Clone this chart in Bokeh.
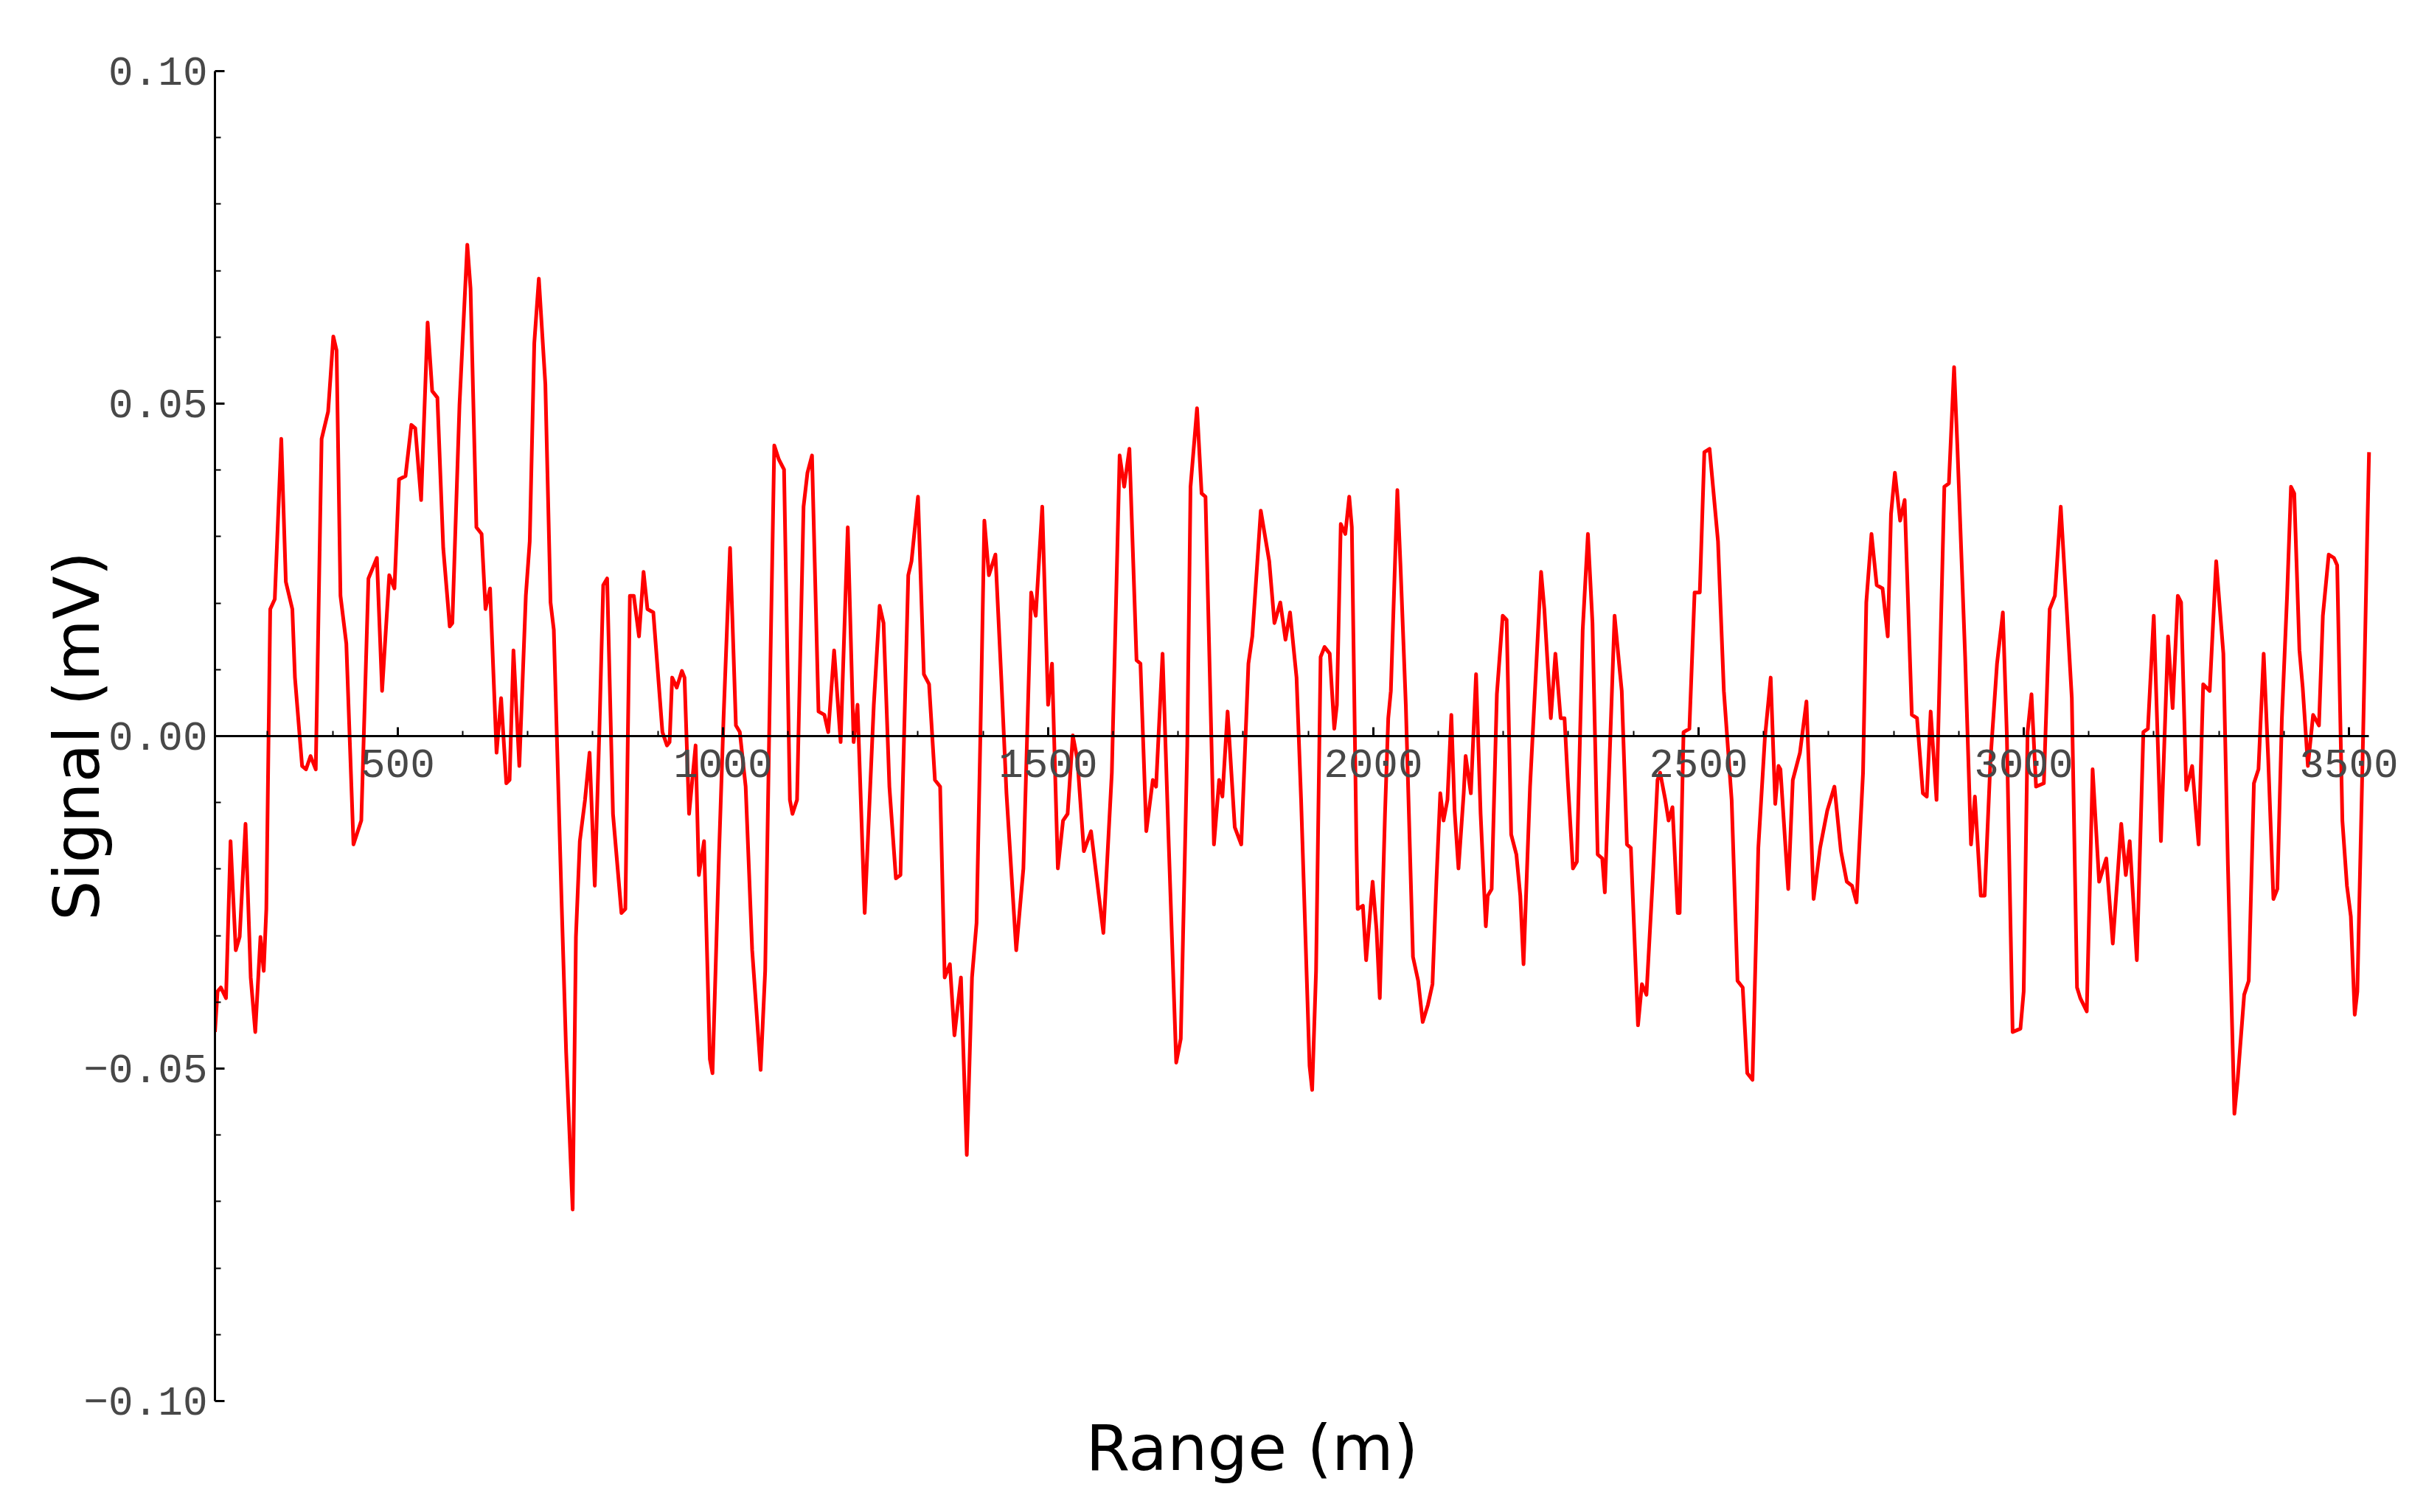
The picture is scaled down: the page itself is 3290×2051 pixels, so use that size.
from bokeh.plotting import figure
from bokeh.models import Range1d, FixedTicker, CustomJSTickFormatter, Title
from bokeh.embed import file_html
from bokeh.resources import INLINE

# ---- data ----
range_m = [
    219, 223, 228, 236, 243, 251, 257, 266, 274, 281, 289, 294, 298, 304, 311, 321, 328, 338, 342, 353,
    359, 366, 374, 383, 393, 401, 406, 412, 421, 432, 444, 455, 468, 476, 487, 495, 502, 512, 521, 527,
    536, 546, 553, 561, 570, 580, 584, 595, 607, 612, 621, 629, 635, 642, 652, 659, 667, 672, 678, 687,
    697, 703, 710, 717, 727, 735, 740, 752, 759, 769,
    774, 780, 788, 795, 803, 810, 816, 822, 831, 844, 850, 857, 863, 871, 878, 884, 893, 907, 914, 918,
    922, 929, 937, 941, 948, 952, 958, 963, 971, 980, 984, 994, 1001, 1011, 1020, 1026, 1035, 1045, 1058, 1065,
    1073, 1079, 1086, 1094, 1103, 1107, 1114, 1124, 1130, 1137, 1147, 1156, 1162, 1171, 1181, 1192, 1201, 1207, 1218, 1232,
    1241, 1247, 1256, 1266, 1273, 1285, 1290, 1300, 1309, 1317,
    1326, 1334, 1341, 1349, 1356, 1366, 1375, 1383, 1390, 1396, 1402, 1409, 1419, 1428, 1436, 1451, 1462, 1474, 1481, 1491,
    1500, 1506, 1515, 1523, 1530, 1538, 1545, 1555, 1566, 1585, 1598, 1610, 1617, 1625, 1636, 1642, 1651, 1661, 1666, 1676,
    1685, 1697, 1704, 1714, 1719, 1729, 1736, 1742, 1755, 1763, 1768, 1776, 1787, 1797, 1808, 1814, 1827, 1840, 1848, 1857,
    1865, 1872,
    1882, 1889, 1902, 1906, 1912, 1919, 1925, 1933, 1940, 1944, 1950, 1957, 1963, 1967, 1974, 1976, 1984, 1989, 1999, 2005,
    2010, 2018, 2023, 2027, 2037, 2042, 2050, 2061, 2069, 2076, 2084, 2091, 2097, 2103, 2108, 2114, 2120, 2125, 2131, 2139,
    2142, 2150, 2158, 2165, 2173, 2176, 2182, 2190, 2199, 2205, 2212, 2220, 2226, 2231, 2241, 2248, 2258, 2263, 2273, 2280,
    2288, 2294, 2299, 2307, 2313, 2322, 2330, 2337, 2345, 2352, 2356, 2364, 2371, 2379, 2382, 2390, 2396, 2407, 2413, 2420,
    2430, 2437,
    2441, 2449, 2454, 2460, 2468, 2471, 2477, 2486, 2494, 2502, 2509, 2517, 2530, 2539, 2551, 2560, 2568, 2575, 2583, 2592,
    2602, 2611, 2618, 2623, 2626, 2638, 2645, 2656, 2666, 2677, 2687, 2698, 2709, 2719, 2728, 2736, 2743, 2753, 2758, 2766,
    2774, 2783, 2791, 2796, 2802, 2810, 2817, 2828, 2836, 2845, 2851, 2857, 2866, 2878, 2885, 2893, 2898, 2910, 2919, 2925,
    2934, 2940, 2949, 2959, 2968, 2974, 2983, 2995,
    3000, 3006, 3012, 3019, 3031, 3040, 3048, 3057, 3065, 3074, 3082, 3087, 3097, 3106, 3116, 3127, 3137, 3150, 3157, 3163,
    3174, 3184, 3191, 3200, 3211, 3222, 3229, 3237, 3242, 3250, 3259, 3269, 3276, 3286, 3296, 3307, 3314, 3324, 3329, 3339,
    3346, 3354, 3361, 3369, 3376, 3384, 3390, 3397, 3405, 3411, 3416, 3424, 3429, 3437, 3445, 3454, 3460, 3469, 3477, 3482,
    3490, 3497, 3503, 3509, 3513, 3522, 3528, 3531,
]

signal_mv = [
    -0.0445, -0.0384, -0.0378, -0.0394, -0.0158, -0.0322, -0.0302, -0.0132, -0.0363, -0.0445, -0.0302, -0.0353, -0.0260, 0.0191, 0.0206, 0.0447, 0.0232, 0.0191, 0.0088, -0.0045,
    -0.0050, -0.0030, -0.0050, 0.0447, 0.0488, 0.0601, 0.0580, 0.0211, 0.0139, -0.0163, -0.0127, 0.0237, 0.0268, 0.0068, 0.0242, 0.0222, 0.0386, 0.0391, 0.0468, 0.0463,
    0.0355, 0.0622, 0.0519, 0.0509, 0.0283, 0.0165, 0.0170, 0.0498, 0.0739, 0.0673, 0.0314, 0.0304, 0.0191, 0.0222, -0.0025, 0.0057, -0.0071, -0.0066, 0.0129, -0.0045,
    0.0211, 0.0293, 0.0591, 0.0688, 0.0529, 0.0201, 0.0160, -0.0250, -0.0476, -0.0712,
    -0.0302, -0.0158, -0.0096, -0.0025, -0.0225, 0.0006, 0.0227, 0.0237, -0.0117, -0.0266, -0.0260, 0.0211, 0.0211, 0.0150, 0.0247, 0.0191, 0.0186, 0.0006, -0.0014, -0.0009,
    0.0088, 0.0073, 0.0098, 0.0088, -0.0117, -0.0076, -0.0014, -0.0209, -0.0158, -0.0486, -0.0507, -0.0178, 0.0027, 0.0283, 0.0016, 0.0006, -0.0076, -0.0322, -0.0502, -0.0353,
    0.0109, 0.0437, 0.0416, 0.0401, -0.0096, -0.0117, -0.0096, 0.0345, 0.0396, 0.0422, 0.0037, 0.0032, 0.0006, 0.0129, -0.0009, 0.0314, -0.0009, 0.0047, -0.0266, 0.0047,
    0.0196, 0.0170, -0.0076, -0.0214, -0.0209, 0.0242, 0.0263, 0.0360, 0.0093, 0.0078,
    -0.0066, -0.0076, -0.0363, -0.0343, -0.0450, -0.0363, -0.0630, -0.0363, -0.0281, 0.0006, 0.0324, 0.0242, 0.0273, 0.0088, -0.0086, -0.0322, -0.0199, 0.0216, 0.0181, 0.0345,
    0.0047, 0.0109, -0.0199, -0.0127, -0.0117, 0.0001, -0.0035, -0.0173, -0.0143, -0.0296, -0.0055, 0.0422, 0.0375, 0.0432, 0.0114, 0.0109, -0.0143, -0.0066, -0.0076, 0.0124,
    -0.0148, -0.0491, -0.0455, -0.0014, 0.0375, 0.0493, 0.0365, 0.0360, -0.0163, -0.0066, -0.0091, 0.0037, -0.0137, -0.0163, 0.0109, 0.0150, 0.0339, 0.0263, 0.0170, 0.0201,
    0.0145, 0.0186,
    0.0088, -0.0096, -0.0496, -0.0532, -0.0353, 0.0119, 0.0134, 0.0124, 0.0011, 0.0047, 0.0319, 0.0304, 0.0360, 0.0314, -0.0158, -0.0260, -0.0255, -0.0337, -0.0219, -0.0291,
    -0.0394, -0.0117, 0.0027, 0.0068, 0.0370, 0.0252, 0.0047, -0.0332, -0.0368, -0.0430, -0.0404, -0.0373, -0.0219, -0.0086, -0.0127, -0.0096, 0.0032, -0.0112, -0.0199, -0.0086,
    -0.0030, -0.0086, 0.0093, -0.0117, -0.0286, -0.0240, -0.0230, 0.0063, 0.0181, 0.0175, -0.0148, -0.0178, -0.0240, -0.0343, -0.0076, 0.0057, 0.0247, 0.0191, 0.0027, 0.0124,
    0.0027, 0.0027, -0.0066, -0.0199, -0.0189, 0.0160, 0.0304, 0.0170, -0.0178, -0.0184, -0.0235, -0.0014, 0.0181, 0.0098, 0.0068, -0.0163, -0.0168, -0.0435, -0.0373, -0.0389,
    -0.0209, -0.0066,
    -0.0055, -0.0096, -0.0127, -0.0107, -0.0266, -0.0266, 0.0006, 0.0011, 0.0216, 0.0216, 0.0427, 0.0432, 0.0293, 0.0068, -0.0096, -0.0368, -0.0378, -0.0507, -0.0517, -0.0168,
    -0.0004, 0.0088, -0.0102, -0.0045, -0.0050, -0.0230, -0.0066, -0.0025, 0.0052, -0.0245, -0.0168, -0.0112, -0.0076, -0.0173, -0.0219, -0.0225, -0.0250, -0.0055, 0.0201, 0.0304,
    0.0227, 0.0222, 0.0150, 0.0334, 0.0396, 0.0324, 0.0355, 0.0032, 0.0027, -0.0086, -0.0091, 0.0037, -0.0096, 0.0375, 0.0380, 0.0555, 0.0437, 0.0119, -0.0163, -0.0091,
    -0.0240, -0.0240, -0.0035, 0.0109, 0.0186, 0.0006, -0.0445, -0.0440,
    -0.0384, 0.0006, 0.0063, -0.0076, -0.0071, 0.0191, 0.0211, 0.0345, 0.0211, 0.0057, -0.0378, -0.0394, -0.0414, -0.0050, -0.0219, -0.0184, -0.0312, -0.0132, -0.0209, -0.0158,
    -0.0337, 0.0006, 0.0011, 0.0181, -0.0158, 0.0150, 0.0042, 0.0211, 0.0201, -0.0081, -0.0045, -0.0163, 0.0078, 0.0068, 0.0263, 0.0124, -0.0194, -0.0568, -0.0517, -0.0389,
    -0.0368, -0.0071, -0.0050, 0.0124, -0.0035, -0.0245, -0.0230, 0.0027, 0.0211, 0.0375, 0.0365, 0.0129, 0.0073, -0.0045, 0.0032, 0.0016, 0.0181, 0.0273, 0.0268, 0.0257,
    -0.0127, -0.0225, -0.0271, -0.0419, -0.0384, 0.0006, 0.0293, 0.0427,
]

x_major_ticks = [500, 1000, 1500, 2000, 2500, 3000, 3500]
x_minor_ticks = [300, 400, 600, 700, 800, 900, 1100, 1200, 1300, 1400, 1600, 1700, 1800, 1900,
                 2100, 2200, 2300, 2400, 2600, 2700, 2800, 2900, 3100, 3200, 3300, 3400]
y_major_ticks = [-0.10, -0.05, 0.0, 0.05, 0.10]
y_minor_ticks = [-0.09, -0.08, -0.07, -0.06, -0.04, -0.03, -0.02, -0.01,
                 0.01, 0.02, 0.03, 0.04, 0.06, 0.07, 0.08, 0.09]

x_axis_extent = (219, 3531)
x_label = "Range (m)"
y_label = "Signal (mV)"

# ---- figure ----
p = figure(width=3274, height=2035, output_backend="svg", toolbar_location=None,
           x_range=Range1d(219, 3601), y_range=Range1d(-0.1, 0.1),
           min_border_left=291, min_border_right=0, min_border_top=96, min_border_bottom=135)
p.outline_line_color = None
p.grid.visible = False
p.background_fill_color = "white"
p.border_fill_color = "white"

p.line(range_m, signal_mv, line_color="#ff0000", line_width=5, line_join="round")

tick_font = "Liberation Mono"
tick_color = "#484848"

xa = p.xaxis[0]
xa.fixed_location = 0
xa.bounds = x_axis_extent
xa.ticker = FixedTicker(ticks=x_major_ticks, minor_ticks=x_minor_ticks)
xa.axis_line_width = 3
xa.axis_line_color = "black"
xa.major_tick_in = 12
xa.major_tick_out = 0
xa.minor_tick_in = 7
xa.minor_tick_out = 0
xa.major_tick_line_width = 3
xa.minor_tick_line_width = 2
xa.major_label_text_font = tick_font
xa.major_label_text_font_size = "56px"
xa.major_label_text_color = tick_color
xa.major_label_standoff = 18

ya = p.yaxis[0]
ya.ticker = FixedTicker(ticks=y_major_ticks, minor_ticks=y_minor_ticks)
ya.formatter = CustomJSTickFormatter(code="return tick.toFixed(2).replace('-', '\u2212');")
ya.axis_line_width = 3
ya.axis_line_color = "black"
ya.major_tick_in = 13
ya.major_tick_out = 0
ya.minor_tick_in = 8
ya.minor_tick_out = 0
ya.major_tick_line_width = 3
ya.minor_tick_line_width = 2
ya.major_label_text_font = tick_font
ya.major_label_text_font_size = "56px"
ya.major_label_text_color = tick_color
ya.major_label_standoff = 10
ya.axis_label = y_label
ya.axis_label_text_font = "DejaVu Sans"
ya.axis_label_text_font_size = "86px"
ya.axis_label_text_font_style = "normal"
ya.axis_label_text_color = "black"
ya.axis_label_standoff = -44

p.add_layout(Title(text=x_label, align="left", offset=1181, text_font="DejaVu Sans",
                   text_font_size="86px", text_font_style="normal", text_color="black",
                   standoff=22), "below")

open("out.html", "w").write(file_html(p, INLINE))
